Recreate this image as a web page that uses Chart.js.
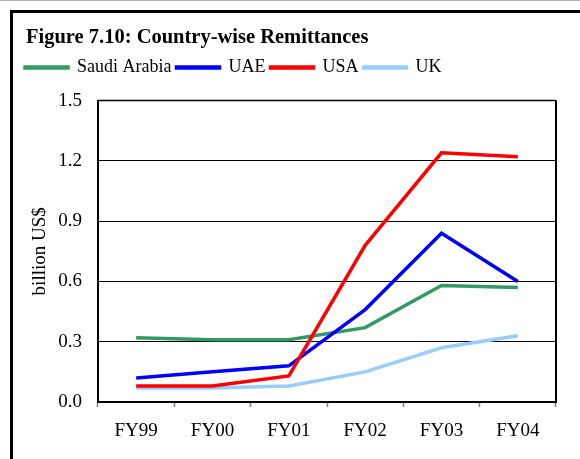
<!DOCTYPE html>
<html>
<head>
<meta charset="utf-8">
<script src="https://cdn.jsdelivr.net/npm/chart.js@4.4.0/dist/chart.umd.min.js"></script>
<style>
html,body{margin:0;padding:0;background:#fff;}
#wrap{width:580px;height:459px;}
</style>
</head>
<body>
<div id="wrap"><canvas id="c" width="580" height="459"></canvas></div>
<script>
const categories = ['FY99', 'FY00', 'FY01', 'FY02', 'FY03', 'FY04'];
const seriesNames = ['Saudi Arabia', 'UAE', 'USA', 'UK'];
const saudiArabia = [0.32, 0.31, 0.31, 0.37, 0.58, 0.57];
const uae = [0.12, 0.15, 0.18, 0.46, 0.84, 0.60];
const usa = [0.08, 0.08, 0.13, 0.78, 1.24, 1.22];
const uk = [0.07, 0.07, 0.08, 0.15, 0.27, 0.33];
const yTickValues = [0, 0.3, 0.6, 0.9, 1.2, 1.5];
const yTickLabels = ['0.0', '0.3', '0.6', '0.9', '1.2', '1.5'];
const titleText = 'Figure 7.10: Country-wise Remittances';
const yAxisTitle = 'billion US$';
const seriesColors = ['#339966', '#0000FF', '#FF0000', '#99CCFF'];
const drawOrder = [2, 1, 0, 3];

Chart.defaults.font.family = "'Liberation Serif', 'Times New Roman', Times, serif";
Chart.defaults.color = '#000';

const spacerPlugin = {
  id: 'legendSpacer',
  afterInit(chart) {
    const box = {
      position: 'top', weight: 500, fullSize: true, options: {},
      left: 0, top: 0, right: 0, bottom: 0, width: 0, height: 0,
      isHorizontal() { return true; },
      update(maxWidth) { this.width = maxWidth; this.height = 14; },
      draw() {}
    };
    Chart.layouts.addBox(chart, box);
  },
  afterLayout(chart) {
    if (chart.titleBlock) chart.titleBlock.left = 26;
  }
};

const framePlugin = {
  id: 'frame',
  beforeDraw(chart) {
    const ctx = chart.ctx;
    ctx.save();
    ctx.fillStyle = '#fff';
    ctx.fillRect(0, 0, chart.width, chart.height);
    ctx.restore();
  },
  afterDraw(chart) {
    const ctx = chart.ctx, a = chart.chartArea;
    ctx.save();
    ctx.strokeStyle = '#000';
    ctx.lineWidth = 2;
    ctx.beginPath();
    ctx.moveTo(a.right, a.top);
    ctx.lineTo(a.right, a.bottom + 1);
    ctx.stroke();
    ctx.lineWidth = 1.5;
    ctx.beginPath();
    ctx.moveTo(a.left, a.top);
    ctx.lineTo(a.right, a.top);
    ctx.stroke();
    ctx.lineWidth = 3;
    ctx.strokeRect(11.5, 11.5, chart.width + 20, chart.height + 20);
    ctx.fillStyle = '#b4b4b4';
    ctx.fillRect(0, 0, chart.width, 1);
    ctx.restore();
  }
};

const seriesData = [saudiArabia, uae, usa, uk];

new Chart(document.getElementById('c'), {
  type: 'line',
  data: {
    labels: categories,
    datasets: seriesNames.map((name, i) => ({
      label: name,
      data: seriesData[i],
      order: drawOrder[i],
      borderColor: seriesColors[i],
      backgroundColor: seriesColors[i],
      borderWidth: 3.5,
      pointRadius: 0,
      pointHoverRadius: 0,
      tension: 0,
      fill: false
    }))
  },
  options: {
    responsive: false,
    devicePixelRatio: 1,
    animation: false,
    events: [],
    layout: { padding: { left: 20, right: 24, top: 0, bottom: 0 } },
    plugins: {
      tooltip: { enabled: false },
      title: {
        display: true,
        text: titleText,
        align: 'start',
        color: '#000',
        font: { size: 20.5, weight: 'bold' },
        padding: { top: 25, bottom: 4 }
      },
      legend: {
        display: true,
        align: 'start',
        labels: {
          boxWidth: 43,
          boxHeight: 1,
          padding: 5,
          color: '#000',
          font: { size: 18 },
          sort: (a, b) => a.datasetIndex - b.datasetIndex
        }
      }
    },
    scales: {
      x: {
        type: 'category',
        offset: true,
        grid: {
          offset: true,
          drawOnChartArea: false,
          drawTicks: true,
          tickLength: 5,
          tickColor: '#808080',
          tickWidth: 1.5
        },
        border: { color: '#000', width: 2 },
        ticks: { font: { size: 19 }, padding: 13, maxRotation: 0, color: '#000' },
        afterFit(scale) { scale.height = 57; }
      },
      y: {
        min: 0,
        max: 1.5,
        afterBuildTicks(scale) { scale.ticks = yTickValues.map(v => ({ value: v })); },
        grid: { color: '#000', lineWidth: 1, drawTicks: false },
        border: { color: '#000', width: 2 },
        ticks: {
          font: { size: 19 },
          padding: 16,
          color: '#000',
          callback: (v, i) => yTickLabels[i]
        },
        title: {
          display: true,
          text: yAxisTitle,
          font: { size: 19 },
          color: '#000',
          padding: { top: 9, bottom: 0 }
        },
        afterFit(scale) { scale.width = 78; }
      }
    }
  },
  plugins: [spacerPlugin, framePlugin]
});
</script>
</body>
</html>
